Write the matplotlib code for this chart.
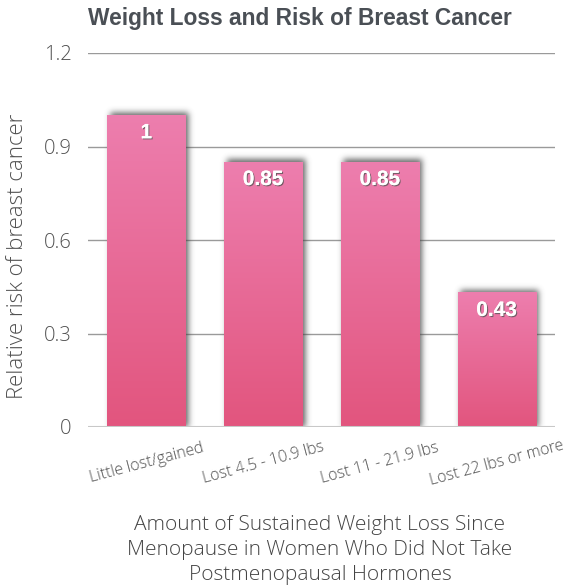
import numpy as np
import matplotlib
matplotlib.use("Agg")
import matplotlib.pyplot as plt
from matplotlib.colors import LinearSegmentedColormap
from matplotlib.transforms import blended_transform_factory
import matplotlib.patheffects as pe

categories = ["Little lost/gained", "Lost 4.5 - 10.9 lbs", "Lost 11 - 21.9 lbs", "Lost 22 lbs or more"]
risk = [1.0, 0.85, 0.85, 0.43]
value_labels = ["1", "0.85", "0.85", "0.43"]
yticks = [0, 0.3, 0.6, 0.9, 1.2]
ytick_labels = ["0", "0.3", "0.6", "0.9", "1.2"]

W, H = 565, 586
fig = plt.figure(figsize=(W / 100, H / 100), dpi=100)
ax = fig.add_axes([88 / W, 1 - 427 / H, 467 / W, 374 / H])

xmin, xmax, ymin, ymax = -0.5, 3.5, 0.0, 1.2
bar_w = 0.67

# soft drop shadow behind bars
nx, ny = 934, 748
gx = np.linspace(xmin, xmax, nx)
gy = np.linspace(ymin, ymax, ny)
mask = np.zeros((ny, nx))
dx = 3 * (xmax - xmin) / 467
dy = 3 * (ymax - ymin) / 374
for i, v in enumerate(risk):
    cx = (gx >= i - bar_w / 2 + dx) & (gx <= i + bar_w / 2 + dx)
    cy = (gy <= v + dy)
    mask[np.ix_(cy, cx)] = 1.0
sig = 6.0
k = np.arange(-int(3 * sig), int(3 * sig) + 1)
kern = np.exp(-k ** 2 / (2 * sig ** 2))
kern /= kern.sum()
blur = np.apply_along_axis(lambda r: np.convolve(r, kern, mode="same"), 1, mask)
blur = np.apply_along_axis(lambda c: np.convolve(c, kern, mode="same"), 0, blur)
shadow = np.zeros((ny, nx, 4))
shadow[..., 0:3] = 0.25
shadow[..., 3] = blur * 0.8
ax.imshow(shadow, extent=(xmin, xmax, ymin, ymax), origin="lower",
          aspect="auto", zorder=2, interpolation="bilinear")

# gradient-filled bars
cmap = LinearSegmentedColormap.from_list("pink", ["#e2557e", "#ed7eae"])
grad = np.linspace(0, 1, 256).reshape(-1, 1)
for i, v in enumerate(risk):
    x0, x1 = i - bar_w / 2, i + bar_w / 2
    ax.imshow(grad, extent=(x0, x1, 0, v), origin="lower", cmap=cmap,
              aspect="auto", zorder=3, interpolation="bilinear")
    ax.text(i, v - 0.056, value_labels[i], ha="center", va="center",
            color="white", fontsize=15, fontweight="bold",
            family=["Liberation Sans", "DejaVu Sans"], zorder=5,
            path_effects=[pe.withSimplePatchShadow(offset=(0.8, -0.8), shadow_rgbFace="#555555", alpha=0.8),
                          pe.Normal()])

ax.set_xlim(xmin, xmax)
ax.set_ylim(ymin, ymax)

for t in yticks[1:]:
    ax.axhline(t, color="#9a9a9a", lw=1, zorder=1)
ax.axhline(0, color="#c8c8c8", lw=1.5, zorder=4)

for s in ax.spines.values():
    s.set_visible(False)

font = dict(family=["Open Sans", "DejaVu Sans"], fontweight="light")
ax.set_yticks(yticks)
ax.set_yticklabels(ytick_labels, fontsize=14.5, color="#505050", **font)
ax.tick_params(axis="y", length=0, pad=12)
ax.set_xticks([])

tr = blended_transform_factory(ax.transData, ax.transAxes)
for i, c in enumerate(categories):
    ax.text(i, -36 / 374, c, transform=tr, rotation=15, rotation_mode="anchor",
            ha="center", va="center", fontsize=11.4, color="#505050", **font)

fig.text(18 / W, 1 - 256 / H, "Relative risk of breast cancer", rotation=90,
         ha="center", va="center", fontsize=16, color="#505050", **font)

fig.text(300 / W, 1 - 18 / H, "Weight Loss and Risk of Breast Cancer",
         ha="center", va="center", fontsize=16.4, fontweight="bold",
         color="#4a4f55", family=["Liberation Sans", "DejaVu Sans"])
fig.text(320 / W, 1 - 550 / H,
         "Amount of Sustained Weight Loss Since\nMenopause in Women Who Did Not Take\nPostmenopausal Hormones",
         ha="center", va="center", fontsize=15, color="#444444",
         linespacing=1.33, **font)

fig.savefig("out.png", dpi=100, facecolor="white")
